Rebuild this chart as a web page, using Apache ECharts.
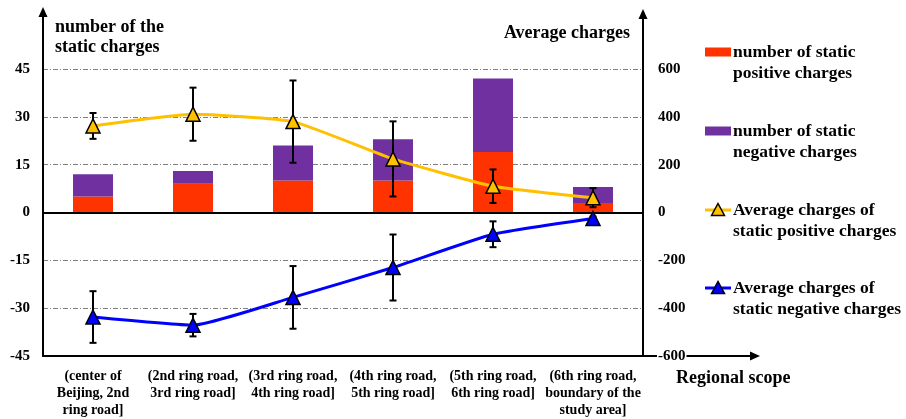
<!DOCTYPE html>
<html>
<head>
<meta charset="utf-8">
<script src="https://cdn.jsdelivr.net/npm/echarts@6/dist/echarts.min.js"></script>
<style>
  html, body { margin: 0; padding: 0; background: #fff; }
  #chart { width: 906px; height: 419px; }
</style>
</head>
<body>
<div id="chart"></div>
<script>
// Regional scope bands (ring roads of Beijing)
const categories = [
  '(center of\nBeijing, 2nd\nring road]',
  '(2nd ring road,\n3rd ring road]',
  '(3rd ring road,\n4th ring road]',
  '(4th ring road,\n5th ring road]',
  '(5th ring road,\n6th ring road]',
  '(6th ring road,\nboundary of the\nstudy area]'
];

// Counts of static charges (left axis, stacked bars)
const positiveCount = [5, 9, 10, 10, 19, 3];
const negativeCount = [7, 4, 11, 13, 23, 5];

// Average charges with error half-widths (right axis)
const positiveAvg = [362, 411, 380, 224, 110, 62];
const positiveErr = [54, 111, 172, 157, 70, 40];
const negativeAvg = [-437, -471, -355, -230, -91, -25];
const negativeErr = [108, 47, 131, 138, 54, 8];

// Axis tick settings
const countTicks = { min: -45, max: 45, interval: 15 };
const avgTicks = { min: -600, max: 600, interval: 200 };

const seriesNames = [
  'number of static\npositive charges',
  'number of static\nnegative charges',
  'Average charges of\nstatic positive charges',
  'Average charges of\nstatic negative charges'
];

const COLORS = { pos: '#FF3300', neg: '#7030A0', posLine: '#FFC000', negLine: '#0000FF' };
const FONT = "'Liberation Serif', 'Times New Roman', serif";
const W = 906, H = 419;
const GRID = { left: 43, right: 263, top: 69, bottom: 63 };
const plotRight = W - GRID.right;
const plotBottom = H - GRID.bottom;

function errorBars(mean, err) {
  return mean.map((m, i) => [i, m - err[i], m + err[i]]);
}

function renderErrorBar(params, api) {
  const idx = api.value(0);
  const lo = api.coord([idx, api.value(1)]);
  const hi = api.coord([idx, api.value(2)]);
  const cap = 3.5;
  const style = { stroke: '#000', lineWidth: 2 };
  return {
    type: 'group',
    children: [
      { type: 'line', shape: { x1: lo[0], y1: lo[1], x2: hi[0], y2: hi[1] }, style },
      { type: 'line', shape: { x1: lo[0] - cap, y1: lo[1], x2: lo[0] + cap, y2: lo[1] }, style },
      { type: 'line', shape: { x1: hi[0] - cap, y1: hi[1], x2: hi[0] + cap, y2: hi[1] }, style }
    ]
  };
}

// Arrow-headed axis extensions and the legend block
function arrowHead(x, y, dir) {
  const s = 4.5, l = 10;
  const pts = dir === 'up'
    ? [[x - s, y + l], [x, y], [x + s, y + l]]
    : [[x - l, y - s], [x, y], [x - l, y + s]];
  return { type: 'polygon', z: 1, shape: { points: pts }, style: { fill: '#000' } };
}

function triangle(cx, cy, fill) {
  return {
    type: 'polygon', z: 2,
    shape: { points: [[cx - 6.5, cy + 5.5], [cx, cy - 6.5], [cx + 6.5, cy + 5.5]] },
    style: { fill, stroke: '#000', lineWidth: 1.5 }
  };
}

const legendX = 705, legendTextX = 733;
const legendRows = [52, 131, 210, 288];
const legendText = (i) => ({
  type: 'text', z: 2, left: legendTextX, top: legendRows[i] - 10.5,
  style: { text: seriesNames[i], font: 'bold 17.5px ' + FONT, fill: '#000', lineHeight: 21 }
});

const graphic = [
  { type: 'line', z: 1, shape: { x1: GRID.left, y1: GRID.top, x2: GRID.left, y2: 14 }, style: { stroke: '#000', lineWidth: 2 } },
  arrowHead(GRID.left, 7, 'up'),
  { type: 'line', z: 1, shape: { x1: plotRight, y1: GRID.top, x2: plotRight, y2: 16 }, style: { stroke: '#000', lineWidth: 2 } },
  arrowHead(plotRight, 9, 'up'),
  { type: 'line', z: 1, shape: { x1: plotRight, y1: plotBottom, x2: 752, y2: plotBottom }, style: { stroke: '#000', lineWidth: 2 } },
  arrowHead(760, plotBottom, 'right'),

  { type: 'rect', z: 2, shape: { x: legendX, y: legendRows[0] - 4.5, width: 26, height: 9 }, style: { fill: COLORS.pos } },
  legendText(0),
  { type: 'rect', z: 2, shape: { x: legendX, y: legendRows[1] - 4.5, width: 26, height: 9 }, style: { fill: COLORS.neg } },
  legendText(1),
  { type: 'line', z: 2, shape: { x1: legendX, y1: legendRows[2], x2: legendX + 26, y2: legendRows[2] }, style: { stroke: COLORS.posLine, lineWidth: 3 } },
  triangle(legendX + 13, legendRows[2], COLORS.posLine),
  legendText(2),
  { type: 'line', z: 2, shape: { x1: legendX, y1: legendRows[3], x2: legendX + 26, y2: legendRows[3] }, style: { stroke: COLORS.negLine, lineWidth: 3 } },
  triangle(legendX + 13, legendRows[3], COLORS.negLine),
  legendText(3)
];

const labelStyle = { fontFamily: FONT, fontWeight: 'bold', color: '#000' };

const chart = echarts.init(document.getElementById('chart'), null, { renderer: 'canvas' });
chart.setOption({
  animation: false,
  backgroundColor: '#fff',
  grid: GRID,
  graphic,
  xAxis: {
    type: 'category',
    data: categories,
    position: 'bottom',
    axisLine: { onZero: false, lineStyle: { color: '#000', width: 2 } },
    axisTick: { show: false },
    axisLabel: { ...labelStyle, fontSize: 14, lineHeight: 17, interval: 0, margin: 12 },
    name: 'Regional scope',
    nameLocation: 'end',
    nameGap: 33,
    nameTextStyle: { ...labelStyle, fontSize: 18, align: 'left', verticalAlign: 'top', padding: [13, 0, 0, 0] }
  },
  yAxis: [
    {
      type: 'value',
      ...countTicks,
      position: 'left',
      axisLine: { show: true, lineStyle: { color: '#000', width: 2 } },
      axisTick: { show: false },
      axisLabel: { ...labelStyle, fontSize: 15, margin: 13 },
      splitLine: { show: true, lineStyle: { color: '#7f7f7f', width: 1, type: [5, 2, 1, 2] } },
      name: 'number of the\nstatic charges',
      nameLocation: 'end',
      nameGap: 12,
      nameTextStyle: { ...labelStyle, fontSize: 18, lineHeight: 20, align: 'left', verticalAlign: 'bottom', padding: [0, 0, 0, 12] }
    },
    {
      type: 'value',
      ...avgTicks,
      position: 'right',
      z: 10,
      axisLine: { show: true, lineStyle: { color: '#000', width: 2 } },
      axisTick: { show: false },
      axisLabel: { ...labelStyle, fontSize: 15, margin: 14, backgroundColor: '#fff', padding: [1, 1, 1, 1] },
      splitLine: { show: false },
      name: 'Average charges',
      nameLocation: 'end',
      nameGap: 36,
      nameTextStyle: { ...labelStyle, fontSize: 18, align: 'right', verticalAlign: 'middle', padding: [0, 13, 0, 0] }
    }
  ],
  series: [
    {
      name: seriesNames[0],
      type: 'bar',
      stack: 'count',
      yAxisIndex: 0,
      barWidth: 40,
      z: 2,
      itemStyle: { color: COLORS.pos },
      data: positiveCount,
      markLine: {
        silent: true,
        symbol: 'none',
        label: { show: false },
        lineStyle: { color: '#000', width: 2, type: 'solid' },
        data: [{ yAxis: 0 }]
      }
    },
    {
      name: seriesNames[1],
      type: 'bar',
      stack: 'count',
      yAxisIndex: 0,
      barWidth: 40,
      z: 2,
      itemStyle: { color: COLORS.neg },
      data: negativeCount
    },
    {
      name: 'positive error',
      type: 'custom',
      yAxisIndex: 1,
      z: 4,
      renderItem: renderErrorBar,
      data: errorBars(positiveAvg, positiveErr)
    },
    {
      name: 'negative error',
      type: 'custom',
      yAxisIndex: 1,
      z: 4,
      renderItem: renderErrorBar,
      data: errorBars(negativeAvg, negativeErr)
    },
    {
      name: seriesNames[2],
      type: 'line',
      yAxisIndex: 1,
      z: 5,
      smooth: 0.15,
      symbol: 'triangle',
      symbolSize: 14,
      lineStyle: { color: COLORS.posLine, width: 3 },
      itemStyle: { color: COLORS.posLine, borderColor: '#000', borderWidth: 1.5 },
      data: positiveAvg
    },
    {
      name: seriesNames[3],
      type: 'line',
      yAxisIndex: 1,
      z: 5,
      smooth: 0.15,
      symbol: 'triangle',
      symbolSize: 14,
      lineStyle: { color: COLORS.negLine, width: 3 },
      itemStyle: { color: COLORS.negLine, borderColor: '#000', borderWidth: 1.5 },
      data: negativeAvg
    }
  ]
});
</script>
</body>
</html>
